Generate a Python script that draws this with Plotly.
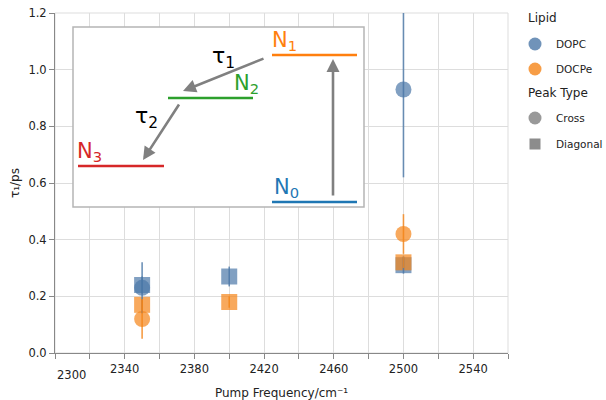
import plotly.graph_objects as go

# ---------------- data ----------------
lipids = ["DOPC", "DOCPe"]
lipid_colors = {"DOPC": "#4c78a8", "DOCPe": "#f58518"}

cross_freq = {"DOPC": [2350, 2500], "DOCPe": [2350, 2500]}
cross_tau = {"DOPC": [0.23, 0.93], "DOCPe": [0.12, 0.42]}
cross_err = {"DOPC": [0.09, 0.31], "DOCPe": [0.07, 0.07]}

diag_freq = {"DOPC": [2350, 2400, 2500], "DOCPe": [2350, 2400, 2500]}
diag_tau = {"DOPC": [0.24, 0.27, 0.31], "DOCPe": [0.17, 0.18, 0.32]}
diag_err = {"DOPC": [0.03, 0.035, 0.03], "DOCPe": [0.02, 0.02, 0.02]}

x_tick_vals = list(range(2300, 2561, 20))
x_tick_labels = ["", "", "2340", "", "2380", "", "2420", "", "2460", "", "2500", "", "2540", ""]
y_tick_vals = [0.0, 0.2, 0.4, 0.6, 0.8, 1.0, 1.2]

FONT = "DejaVu Sans"
TXT = "#222222"

# ---------------- geometry helpers (layout only) ----------------
L, R, T, B = 55, 508, 13, 353      # plot area in page pixels
W, H = 606, 400


def px(x):
    return (x - L) / (R - L)


def py(y):
    return (B - y) / (B - T)


fig = go.Figure()

# markers
for lip in lipids:
    c = lipid_colors[lip]
    fig.add_trace(go.Scatter(x=diag_freq[lip], y=diag_tau[lip], mode="markers",
                             marker=dict(symbol="square", size=16, color=c, opacity=0.7,
                                         line=dict(width=0)),
                             showlegend=False, hoverinfo="skip"))
for lip in lipids:
    c = lipid_colors[lip]
    fig.add_trace(go.Scatter(x=cross_freq[lip], y=cross_tau[lip], mode="markers",
                             marker=dict(symbol="circle", size=16, color=c, opacity=0.7,
                                         line=dict(width=0)),
                             showlegend=False, hoverinfo="skip"))

# error bars (drawn over markers)
for lip in lipids:
    c = lipid_colors[lip]
    for fx, ty, er in ((cross_freq[lip], cross_tau[lip], cross_err[lip]),
                       (diag_freq[lip], diag_tau[lip], diag_err[lip])):
        xs, ys = [], []
        for f, t, e in zip(fx, ty, er):
            xs += [f, f, None]
            ys += [t - e, t + e, None]
        fig.add_trace(go.Scatter(x=xs, y=ys, mode="lines",
                                 line=dict(color=c, width=1.6), opacity=0.8,
                                 showlegend=False, hoverinfo="skip"))

shapes = []
annotations = []

# view frame
shapes.append(dict(type="rect", xref="paper", yref="paper", x0=0, x1=1, y0=0, y1=1,
                   line=dict(color="#dddddd", width=1), layer="below"))

# ---------------- inset diagram ----------------
shapes.append(dict(type="rect", xref="paper", yref="paper",
                   x0=px(73), x1=px(364), y0=py(207), y1=py(27),
                   fillcolor="white", line=dict(color="#b5b5b5", width=1.5), layer="above"))

levels = [
    ("N<sub>1</sub>", "#ff7f0e", 272, 357, 55, 270, 56),
    ("N<sub>2</sub>", "#2ca02c", 168, 253, 98, 232, 99),
    ("N<sub>3</sub>", "#d62728", 78, 164, 166, 75, 167),
    ("N<sub>0</sub>", "#1f77b4", 272, 357, 202, 272, 203),
]
for txt, col, x0, x1, yy, tx, ty in levels:
    shapes.append(dict(type="line", xref="paper", yref="paper",
                       x0=px(x0), x1=px(x1), y0=py(yy), y1=py(yy),
                       line=dict(color=col, width=2.6), layer="above"))
    annotations.append(dict(xref="paper", yref="paper", x=px(tx), y=py(ty),
                            xanchor="left", yanchor="bottom", showarrow=False,
                            text=txt, font=dict(family=FONT, size=21, color=col)))

arrows = [((183, 91), (265, 58)), ((143, 160), (180, 103)), ((333, 59), (333, 197))]
for (hx, hy), (tx, ty) in arrows:
    annotations.append(dict(xref="paper", yref="paper", x=px(hx), y=py(hy),
                            ax=tx - hx, ay=ty - hy, showarrow=True,
                            arrowhead=2, arrowsize=1.0, arrowwidth=2.6,
                            arrowcolor="#808080", standoff=0, startstandoff=0, text=""))

for txt, cx, cy in (("τ<sub>1</sub>", 223, 58), ("τ<sub>2</sub>", 146, 117)):
    annotations.append(dict(xref="paper", yref="paper", x=px(cx), y=py(cy),
                            xanchor="center", yanchor="middle", showarrow=False,
                            text=txt, font=dict(family=FONT, size=22, color="black")))

# flush first x tick label
annotations.append(dict(xref="paper", yref="paper", x=0, y=py(375),
                        xanchor="left", yanchor="middle", showarrow=False,
                        text=str(x_tick_vals[0]), font=dict(family=FONT, size=11.5, color=TXT)))

# ---------------- legend (manual) ----------------
legend_font = dict(family=FONT, size=10.5, color=TXT)
annotations.append(dict(xref="paper", yref="paper", x=px(526), y=py(18), xanchor="left",
                        yanchor="middle", showarrow=False, text="Lipid",
                        font=dict(family=FONT, size=12, color=TXT)))
annotations.append(dict(xref="paper", yref="paper", x=px(526), y=py(93), xanchor="left",
                        yanchor="middle", showarrow=False, text="Peak Type",
                        font=dict(family=FONT, size=12, color=TXT)))
legend_items = [("DOPC", lipid_colors["DOPC"], "circle", 44),
                ("DOCPe", lipid_colors["DOCPe"], "circle", 69),
                ("Cross", "#7f7f7f", "circle", 118),
                ("Diagonal", "#7f7f7f", "square", 144)]
for name, col, sym, yy in legend_items:
    r = 6.5 if sym == "circle" else 5.5
    shapes.append(dict(type="circle" if sym == "circle" else "rect",
                       xref="paper", yref="paper",
                       x0=px(535 - r), x1=px(535 + r), y0=py(yy + r), y1=py(yy - r),
                       fillcolor=col, opacity=0.8 if sym == "circle" else 0.9,
                       line=dict(width=0), layer="above"))
    annotations.append(dict(xref="paper", yref="paper", x=px(554), y=py(yy), xanchor="left",
                            yanchor="middle", showarrow=False, text=name, font=legend_font))

fig.update_layout(
    width=W, height=H,
    margin=dict(l=L, r=W - R, t=T, b=H - B, pad=0, autoexpand=False),
    paper_bgcolor="white", plot_bgcolor="white",
    font=dict(family=FONT, size=11, color=TXT),
    showlegend=False,
    shapes=shapes, annotations=annotations,
    xaxis=dict(range=[2300, 2560], tickvals=x_tick_vals, ticktext=x_tick_labels,
               automargin=False, ticklabeloverflow="allow",
               showgrid=True, gridcolor="#dddddd", gridwidth=1, zeroline=False,
               showline=True, linecolor="#888888", linewidth=1,
               ticks="outside", ticklen=5, tickcolor="#888888", tickwidth=1,
               tickfont=dict(family=FONT, size=11.5, color=TXT),
               title=dict(text="Pump Frequency/cm⁻¹", standoff=15,
                          font=dict(family=FONT, size=12, color=TXT))),
    yaxis=dict(range=[0, 1.2], tickvals=y_tick_vals, tickformat=".1f",
               automargin=False, ticklabeloverflow="allow",
               showgrid=True, gridcolor="#dddddd", gridwidth=1, zeroline=False,
               showline=True, linecolor="#888888", linewidth=1,
               ticks="outside", ticklen=5, tickcolor="#888888", tickwidth=1,
               tickfont=dict(family=FONT, size=11.5, color=TXT),
               title=dict(text="τ₁/ps", standoff=6,
                          font=dict(family=FONT, size=12, color=TXT))),
)

fig.write_html("out.html",
               config={"displayModeBar": False},
               post_script="document.body.style.margin='0px';document.body.style.padding='0px';")
